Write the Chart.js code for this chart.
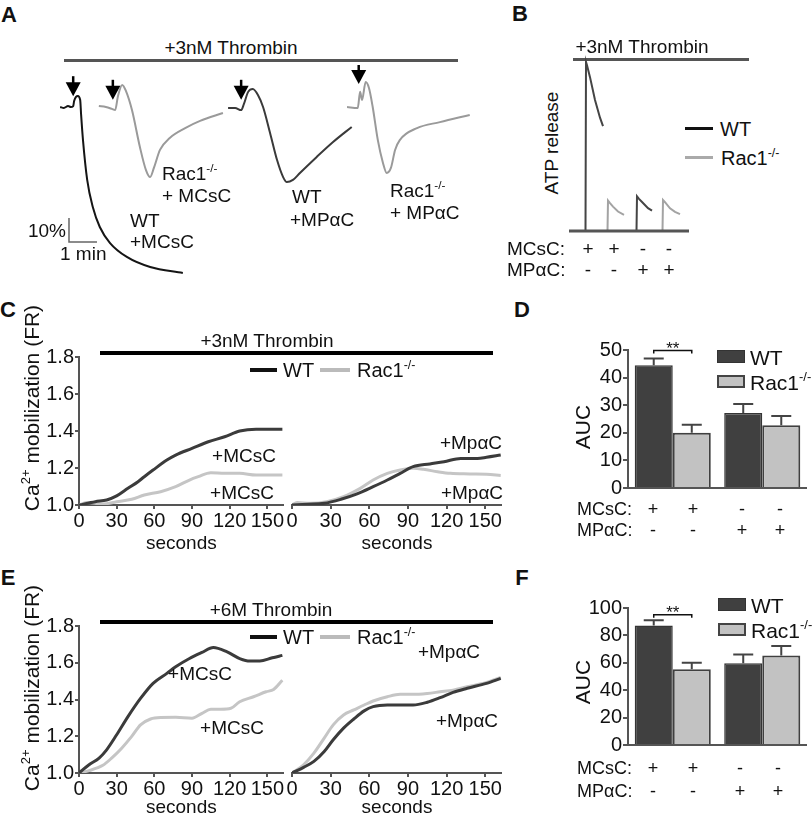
<!DOCTYPE html>
<html>
<head>
<meta charset="utf-8">
<title>Rac1 platelet figure</title>
<script src="https://cdn.jsdelivr.net/npm/chart.js@4.4.1/dist/chart.umd.min.js"></script>
<style>
  html, body { margin: 0; padding: 0; }
  body { position: relative; width: 812px; height: 817px; overflow: hidden; background: #fff;
         font-family: "Liberation Sans", Arial, sans-serif; color: #111; }
  canvas { position: absolute; z-index: 1; }
  canvas.front { z-index: 2; }
  .t { position: absolute; white-space: nowrap; line-height: 1; z-index: 3; }
  .cc { transform: translate(-50%, -50%); }
  .lc { transform: translateY(-50%); }
  .rc { transform: translate(-100%, -50%); }
  .rot { transform: translate(-50%, -50%) rotate(-90deg); }
  .hb { position: absolute; }
  .letter { font-weight: bold; font-size: 22px; }
  sup { font-size: 0.62em; vertical-align: 0.62em; line-height: 0; }
  .box { position: absolute; box-sizing: border-box; }
</style>
</head>
<body>

<div class="t cc letter" style="left:9px;top:15px">A</div>
<div class="t cc letter" style="left:520px;top:14px">B</div>
<div class="t cc letter" style="left:8px;top:310px">C</div>
<div class="t cc letter" style="left:522px;top:310px">D</div>
<div class="t cc letter" style="left:8px;top:578px">E</div>
<div class="t cc letter" style="left:522px;top:578px">F</div>

<!-- A -->
<div class="t cc" style="left:231px;top:47px;font-size:19px">+3nM Thrombin</div>
<div class="hb" style="left:64px;top:59px;width:394px;height:3px;background:#555"></div>
<canvas id="chartA" width="425" height="215" style="left:55px;top:65px"></canvas>
<div class="t lc" style="left:162px;top:173px;font-size:19px">Rac1<sup>-/-</sup></div>
<div class="t lc" style="left:162px;top:195px;font-size:19px">+ MCsC</div>
<div class="t lc" style="left:130px;top:220px;font-size:19px">WT</div>
<div class="t lc" style="left:130px;top:241px;font-size:19px">+MCsC</div>
<div class="t lc" style="left:292px;top:196px;font-size:19px">WT</div>
<div class="t lc" style="left:290px;top:219px;font-size:19px">+MPαC</div>
<div class="t lc" style="left:390px;top:190px;font-size:19px">Rac1<sup>-/-</sup></div>
<div class="t lc" style="left:390px;top:212px;font-size:19px">+ MPαC</div>
<div class="t rc" style="left:66px;top:230px;font-size:19px">10%</div>
<div class="t lc" style="left:60px;top:253px;font-size:19px">1 min</div>

<!-- B -->
<div class="t cc" style="left:642px;top:46px;font-size:19px">+3nM Thrombin</div>
<div class="hb" style="left:573px;top:58px;width:176px;height:3px;background:#555"></div>
<div class="t rot" style="left:551px;top:143px;font-size:19px">ATP release</div>
<canvas id="chartB" width="120" height="180" style="left:569px;top:55px"></canvas>
<div class="hb" style="left:685px;top:127px;width:28px;height:3px;background:#111"></div>
<div class="t lc" style="left:720px;top:129px;font-size:20px">WT</div>
<div class="hb" style="left:685px;top:156px;width:28px;height:3px;background:#aaa"></div>
<div class="t lc" style="left:721px;top:158px;font-size:20px">Rac1<sup>-/-</sup></div>
<div class="t lc" style="left:507px;top:248px;font-size:19px">MCsC:</div>
<div class="t lc" style="left:507px;top:269px;font-size:19px">MPαC:</div>
<div class="t cc" style="left:588px;top:248px;font-size:19px">+</div>
<div class="t cc" style="left:614px;top:248px;font-size:19px">+</div>
<div class="t cc" style="left:643px;top:248px;font-size:19px">-</div>
<div class="t cc" style="left:669px;top:248px;font-size:19px">-</div>
<div class="t cc" style="left:588px;top:269px;font-size:19px">-</div>
<div class="t cc" style="left:614px;top:269px;font-size:19px">-</div>
<div class="t cc" style="left:643px;top:269px;font-size:19px">+</div>
<div class="t cc" style="left:669px;top:269px;font-size:19px">+</div>

<!-- C -->
<div class="t cc" style="left:267px;top:340px;font-size:19px">+3nM Thrombin</div>
<div class="hb" style="left:100px;top:351px;width:393px;height:3.5px;background:#000"></div>
<div class="hb" style="left:250px;top:368px;width:27px;height:3.5px;background:#111"></div>
<div class="t lc" style="left:283px;top:370px;font-size:20px">WT</div>
<div class="hb" style="left:320px;top:368px;width:30px;height:3.5px;background:#bbb"></div>
<div class="t lc" style="left:357px;top:370px;font-size:20px">Rac1<sup>-/-</sup></div>
<div class="t rot" style="left:31px;top:408px;font-size:21px">Ca<sup>2+</sup> mobilization (FR)</div>
<canvas id="chartC1" width="250" height="215" style="left:34px;top:340px"></canvas>
<canvas id="chartC2" class="front" width="252" height="215" style="left:250px;top:340px"></canvas>
<div class="t cc" style="left:244px;top:455px;font-size:19px">+MCsC</div>
<div class="t cc" style="left:242px;top:492px;font-size:19px">+MCsC</div>
<div class="t cc" style="left:471px;top:442px;font-size:19px">+MpαC</div>
<div class="t cc" style="left:472px;top:492px;font-size:19px">+MpαC</div>

<!-- D -->
<div class="t rot" style="left:582px;top:427px;font-size:21px">AUC</div>
<canvas id="chartD" width="219" height="164" style="left:588px;top:337px"></canvas>
<div class="box" style="left:717px;top:350px;width:28px;height:13px;background:#404040;border:1.5px solid #333"></div>
<div class="t lc" style="left:750px;top:357px;font-size:21px">WT</div>
<div class="box" style="left:717px;top:375px;width:28px;height:13px;background:#c2c2c2;border:2px solid #444"></div>
<div class="t lc" style="left:750px;top:382px;font-size:21px">Rac1<sup>-/-</sup></div>
<div class="t lc" style="left:577px;top:509px;font-size:18px">MCsC:</div>
<div class="t lc" style="left:577px;top:530px;font-size:18px">MPαC:</div>
<div class="t cc" style="left:653px;top:509px;font-size:18px">+</div>
<div class="t cc" style="left:693px;top:509px;font-size:18px">+</div>
<div class="t cc" style="left:742px;top:509px;font-size:18px">-</div>
<div class="t cc" style="left:780px;top:509px;font-size:18px">-</div>
<div class="t cc" style="left:653px;top:530px;font-size:18px">-</div>
<div class="t cc" style="left:693px;top:530px;font-size:18px">-</div>
<div class="t cc" style="left:742px;top:530px;font-size:18px">+</div>
<div class="t cc" style="left:780px;top:530px;font-size:18px">+</div>

<!-- E -->
<div class="t cc" style="left:271px;top:609px;font-size:19px">+6M Thrombin</div>
<div class="hb" style="left:100px;top:620px;width:393px;height:3.5px;background:#000"></div>
<div class="hb" style="left:250px;top:635px;width:27px;height:3.5px;background:#111"></div>
<div class="t lc" style="left:283px;top:637px;font-size:20px">WT</div>
<div class="hb" style="left:320px;top:635px;width:30px;height:3.5px;background:#bbb"></div>
<div class="t lc" style="left:357px;top:637px;font-size:20px">Rac1<sup>-/-</sup></div>
<div class="t rot" style="left:31px;top:688px;font-size:21px">Ca<sup>2+</sup> mobilization (FR)</div>
<canvas id="chartE1" width="250" height="210" style="left:34px;top:609px"></canvas>
<canvas id="chartE2" class="front" width="252" height="210" style="left:250px;top:609px"></canvas>
<div class="t cc" style="left:200px;top:673px;font-size:19px">+MCsC</div>
<div class="t cc" style="left:232px;top:727px;font-size:19px">+MCsC</div>
<div class="t cc" style="left:449px;top:651px;font-size:19px">+MpαC</div>
<div class="t cc" style="left:467px;top:720px;font-size:19px">+MpαC</div>

<!-- F -->
<div class="t rot" style="left:582px;top:682px;font-size:21px">AUC</div>
<canvas id="chartF" width="219" height="163" style="left:588px;top:595px"></canvas>
<div class="box" style="left:718px;top:598px;width:28px;height:13px;background:#404040;border:1.5px solid #333"></div>
<div class="t lc" style="left:751px;top:605px;font-size:21px">WT</div>
<div class="box" style="left:718px;top:623px;width:28px;height:13px;background:#c2c2c2;border:2px solid #444"></div>
<div class="t lc" style="left:751px;top:630px;font-size:21px">Rac1<sup>-/-</sup></div>
<div class="t lc" style="left:577px;top:768px;font-size:18px">MCsC:</div>
<div class="t lc" style="left:577px;top:791px;font-size:18px">MPαC:</div>
<div class="t cc" style="left:653px;top:768px;font-size:18px">+</div>
<div class="t cc" style="left:693px;top:768px;font-size:18px">+</div>
<div class="t cc" style="left:740px;top:768px;font-size:18px">-</div>
<div class="t cc" style="left:778px;top:768px;font-size:18px">-</div>
<div class="t cc" style="left:653px;top:791px;font-size:18px">-</div>
<div class="t cc" style="left:693px;top:791px;font-size:18px">-</div>
<div class="t cc" style="left:740px;top:791px;font-size:18px">+</div>
<div class="t cc" style="left:778px;top:791px;font-size:18px">+</div>

<!-- off-screen copies used only to check the first tick label -->
<canvas id="probe1" width="252" height="215" style="left:-2000px;top:0"></canvas>
<canvas id="probe2" width="252" height="215" style="left:-2000px;top:300px"></canvas>

<script>
// ---- A: aggregation traces, [time s, % aggregation] ----
const aggWtMcsc = [[11,0],[19,0.4],[28,-0.4],[34,0],[39,-0.4],[41,-2.5],[45,-4.2],[49,-4.6],[54,-2.9],[56,3.3],[60,13.8],[69,30.4],[81,41.7],[96,50],[118,56.7],[154,62.5],[204,66.7],[274,69.2]];
const aggRacMcsc = [[94,-0.4],[109,0],[122,0.8],[129,1.3],[135,-4.6],[144,-9.2],[152,-6.7],[165,1.3],[182,16.7],[195,26.3],[204,29.2],[212,25.4],[225,17.9],[246,12.9],[279,8.8],[311,5.8],[360,2.5]];
const aggWtMpac = [[371,0.4],[386,0.4],[399,1.3],[405,-1.3],[414,-6.3],[424,-7.5],[435,-5],[446,0],[461,10.8],[476,22.1],[489,29.2],[497,31.3],[510,30.4],[525,27.5],[561,20.8],[596,14.6],[636,8.3]];
const aggRacMpac = [[626,0],[649,0.4],[654,-6.3],[658,-2.9],[666,-10.4],[673,-7.9],[681,0],[692,13.8],[703,23.3],[711,27.5],[720,25.4],[729,17.9],[739,13.8],[776,8.8],[825,6.3],[889,3.3]];
const aggColors = ["#151515", "#9a9a9a", "#3a3a3a", "#9a9a9a"];
const arrowTimes = [39, 124, 399, 651];
const arrowTips = [-4.5, -3, -3, -9.6];
const scaleBarAt = [30, 56.25]; // 1 min x 10%

// ---- B: ATP release, [time, signal] ----
const atpWtMcsc = [[13,0],[16.5,0],[17,100],[18,98],[21,91],[26,77.5],[31,67],[34,62]];
const atpRacMcsc = [[36,0],[38.5,0],[39,18],[41,16.5],[44,14.4],[49,11.5],[55,9.5]];
const atpWtMpac = [[65,0],[67.5,0],[68,20.5],[70,19],[74,16.5],[79,13.5],[83,12]];
const atpRacMpac = [[91,0],[93.5,0],[94,18.3],[96,17],[101,13.4],[106,11.3],[111,10]];

// ---- C: Ca2+ mobilization, 3nM thrombin, [seconds, FR] ----
const caWt3Mcsc = [[0,1.0],[13,1.018],[22,1.027],[30,1.049],[39,1.09],[47,1.126],[52,1.153],[59,1.189],[70,1.243],[77,1.27],[90,1.306],[103,1.342],[116,1.369],[128,1.40],[141,1.41],[162,1.41]];
const caRac3Mcsc = [[0,1.0],[6,1.013],[19,1.005],[30,1.018],[42,1.031],[52,1.054],[65,1.072],[77,1.099],[88,1.135],[95,1.153],[105,1.175],[116,1.171],[128,1.171],[141,1.162],[162,1.162]];
const caWt3Mpac = [[0,1.0],[12,1.004],[25,1.009],[38,1.031],[50,1.059],[63,1.099],[74,1.135],[84,1.171],[94,1.207],[107,1.222],[118,1.234],[131,1.252],[144,1.252],[151,1.258],[162,1.27]];
const caRac3Mpac = [[0,1.0],[4,1.014],[14,1.009],[27,1.018],[40,1.045],[53,1.09],[63,1.135],[74,1.171],[84,1.189],[94,1.198],[102,1.193],[113,1.18],[123,1.171],[138,1.168],[151,1.166],[162,1.16]];

// ---- E: Ca2+ mobilization, 6M thrombin ----
const caWt6Mcsc = [[0,1.0],[8,1.045],[16,1.081],[22,1.126],[30,1.208],[39,1.307],[49,1.406],[59,1.488],[70,1.542],[77,1.578],[88,1.623],[98,1.656],[107,1.683],[118,1.659],[128,1.623],[136,1.609],[144,1.609],[154,1.627],[162,1.64]];
const caRac6Mcsc = [[0,1.0],[8,1.013],[19,1.042],[26,1.081],[34,1.135],[42,1.199],[49,1.262],[57,1.294],[65,1.302],[77,1.303],[90,1.298],[98,1.325],[105,1.347],[113,1.347],[121,1.352],[128,1.388],[139,1.415],[149,1.442],[155,1.455],[162,1.505]];
const caWt6Mpac = [[0,1.0],[9,1.031],[17,1.063],[25,1.117],[32,1.181],[40,1.244],[48,1.294],[56,1.338],[63,1.361],[74,1.37],[84,1.37],[94,1.37],[105,1.385],[115,1.41],[125,1.439],[136,1.461],[151,1.488],[162,1.515]];
const caRac6Mpac = [[0,1.0],[9,1.045],[17,1.108],[25,1.19],[32,1.262],[40,1.316],[48,1.343],[56,1.37],[63,1.392],[74,1.415],[84,1.428],[94,1.428],[105,1.433],[115,1.442],[125,1.451],[136,1.469],[151,1.493],[162,1.52]];
const caTimeMax = 163;

// ---- D / F: AUC bars ----
const treatments = ["MCsC", "MPαC"];
const aucWt3 = [44.5, 27.2], aucWt3Err = [2.4, 3.2];
const aucRac3 = [20.0, 22.7], aucRac3Err = [2.9, 3.4];
const aucWt6 = [87.2, 59.6], aucWt6Err = [3.8, 6.5];
const aucRac6 = [55.3, 65.4], aucRac6Err = [4.7, 6.8];

Chart.defaults.font.family = '"Liberation Sans", Arial, sans-serif';
Chart.defaults.color = "#111";
Chart.defaults.animation = false;
Chart.defaults.responsive = false;
Chart.defaults.events = [];
Chart.defaults.plugins.legend.display = false;
Chart.defaults.plugins.tooltip.enabled = false;

const pts = (arr) => arr.map(([x, y]) => ({ x, y }));

const aggExtras = {
  id: "aggExtras",
  afterDatasetsDraw(chart) {
    const { ctx, scales: { x, y } } = chart;
    ctx.save();
    ctx.fillStyle = "#000";
    ctx.strokeStyle = "#000";
    arrowTimes.forEach((t, i) => {
      const px = x.getPixelForValue(t), tip = y.getPixelForValue(arrowTips[i]);
      ctx.lineWidth = 2.5;
      ctx.beginPath(); ctx.moveTo(px, tip - 20); ctx.lineTo(px, tip - 12); ctx.stroke();
      ctx.beginPath(); ctx.moveTo(px - 7.5, tip - 14); ctx.lineTo(px + 7.5, tip - 14); ctx.lineTo(px, tip); ctx.closePath(); ctx.fill();
    });
    const x0 = x.getPixelForValue(scaleBarAt[0]), y0 = y.getPixelForValue(scaleBarAt[1]);
    const x1 = x.getPixelForValue(scaleBarAt[0] + 60), y1 = y.getPixelForValue(scaleBarAt[1] - 10);
    ctx.strokeStyle = "#666";
    ctx.lineWidth = 1.5;
    ctx.beginPath(); ctx.moveTo(x0, y1); ctx.lineTo(x0, y0); ctx.lineTo(x1, y0); ctx.stroke();
    ctx.restore();
  }
};

new Chart(document.getElementById("chartA"), {
  type: "line",
  data: {
    datasets: [aggWtMcsc, aggRacMcsc, aggWtMpac, aggRacMpac].map((tr, i) => ({
      data: pts(tr), borderColor: aggColors[i], borderWidth: 2
    }))
  },
  options: {
    layout: { padding: 0 },
    elements: { point: { radius: 0 }, line: { cubicInterpolationMode: "monotone" } },
    scales: {
      x: { type: "linear", display: false, min: 0, max: 911 },
      y: { display: false, min: -17.5, max: 72.1, reverse: true }
    }
  },
  plugins: [aggExtras]
});

const atpBaseline = {
  id: "atpBaseline",
  afterDatasetsDraw(chart) {
    const { ctx, chartArea, scales: { y } } = chart;
    const py = y.getPixelForValue(0);
    ctx.save();
    ctx.strokeStyle = "#555";
    ctx.lineWidth = 3;
    ctx.beginPath(); ctx.moveTo(chartArea.left, py); ctx.lineTo(chartArea.right, py); ctx.stroke();
    ctx.restore();
  }
};

new Chart(document.getElementById("chartB"), {
  type: "line",
  data: {
    datasets: [
      { data: pts(atpWtMcsc), borderColor: "#454545" },
      { data: pts(atpRacMcsc), borderColor: "#a3a3a3" },
      { data: pts(atpWtMpac), borderColor: "#454545" },
      { data: pts(atpRacMpac), borderColor: "#a3a3a3" }
    ]
  },
  options: {
    layout: { padding: 0 },
    elements: { point: { radius: 0 }, line: { borderWidth: 2, tension: 0 } },
    scales: {
      x: { type: "linear", display: false, min: 0, max: 120 },
      y: { display: false, min: -2.4, max: 104.1 }
    }
  },
  plugins: [atpBaseline]
});

function caChart(id, wt, rac, withY, axisHeight) {
  const axisLine = { color: "#555", width: 2 };
  const tickMarks = { drawOnChartArea: false, tickLength: 4, color: "#555", lineWidth: 2 };
  const yAxis = withY
    ? { ticks: { stepSize: 0.2, font: { size: 20 }, padding: 1, callback: (v) => v.toFixed(1) },
        grid: tickMarks, border: axisLine, afterFit: (s) => { s.width = 45; } }
    : { ticks: { display: false }, grid: { display: false }, border: { display: false },
        afterFit: (s) => { s.width = 42; } };
  yAxis.min = 1;
  yAxis.max = 1.8;
  const datasets = [{ label: "WT", data: pts(wt), borderColor: "#3b3b3b" }];
  if (rac) datasets.push({ label: "Rac1-/-", data: pts(rac), borderColor: "#c5c5c5" });
  return new Chart(document.getElementById(id), {
    type: "line",
    data: { datasets },
    options: {
      layout: { padding: { top: 17, left: 0, right: 0, bottom: 0 } },
      elements: { point: { radius: 0 }, line: { borderWidth: 3, cubicInterpolationMode: "monotone" } },
      scales: {
        x: {
          type: "linear", min: 0, max: caTimeMax,
          afterFit: (s) => { s.height = axisHeight; },
          ticks: { stepSize: 30, includeBounds: false, font: { size: 20 }, padding: 0, maxRotation: 0, autoSkip: false },
          grid: tickMarks, border: axisLine,
          title: { display: true, text: "seconds", font: { size: 19 }, padding: 0 }
        },
        y: yAxis
      }
    }
  });
}

const cLeft = caChart("chartC1", caWt3Mcsc, caRac3Mcsc, true, 50);
const cRight = caChart("chartC2", caWt3Mpac, caRac3Mpac, false, 50);
caChart("chartE1", caWt6Mcsc, caRac6Mcsc, true, 46);
const eRight = caChart("chartE2", caWt6Mpac, caRac6Mpac, false, 46);
const probeA = caChart("probe1", [[0,1],[50,1.2],[162,1.3]], null, false, 50);
const probeB = caChart("probe2", caWt3Mpac, null, false, 50);

const errorBars = {
  id: "errorBars",
  afterDatasetsDraw(chart, args, opts) {
    const { ctx, scales: { y } } = chart;
    ctx.save();
    ctx.strokeStyle = "#444";
    ctx.lineWidth = 2;
    chart.data.datasets.forEach((ds, i) => {
      chart.getDatasetMeta(i).data.forEach((bar, j) => {
        const top = y.getPixelForValue(ds.data[j] + ds.errors[j]);
        ctx.beginPath();
        ctx.moveTo(bar.x, bar.y); ctx.lineTo(bar.x, top);
        ctx.moveTo(bar.x - 10, top); ctx.lineTo(bar.x + 10, top);
        ctx.stroke();
      });
    });
    const a = chart.getDatasetMeta(0).data[0].x, b = chart.getDatasetMeta(1).data[0].x;
    const ly = y.getPixelForValue(opts.sigLevel);
    ctx.strokeStyle = "#111";
    ctx.lineWidth = 1.5;
    ctx.beginPath(); ctx.moveTo(a, ly + 3); ctx.lineTo(a, ly); ctx.lineTo(b, ly); ctx.lineTo(b, ly + 3); ctx.stroke();
    ctx.fillStyle = "#111";
    ctx.font = '17px "Liberation Sans"';
    ctx.textAlign = "center";
    ctx.textBaseline = "alphabetic";
    ctx.fillText("**", (a + b) / 2, ly + 3);
    ctx.restore();
  }
};

function aucChart(id, wt, wtErr, rac, racErr, yMax, yStep, sigLevel) {
  return new Chart(document.getElementById(id), {
    type: "bar",
    data: {
      labels: treatments,
      datasets: [
        { label: "WT", data: wt, errors: wtErr, backgroundColor: "#404040", borderColor: "#353535", borderWidth: 1.5 },
        { label: "Rac1-/-", data: rac, errors: racErr, backgroundColor: "#c2c2c2", borderColor: "#404040", borderWidth: 2 }
      ]
    },
    options: {
      layout: { padding: { top: 12, right: 0, left: 0, bottom: 0 } },
      datasets: { bar: { categoryPercentage: 0.85, barPercentage: 1 } },
      scales: {
        x: {
          ticks: { display: false }, grid: { display: false },
          border: { color: "#555", width: 2 },
          afterFit: (s) => { s.height = 4; }
        },
        y: {
          min: 0, max: yMax,
          afterFit: (s) => { s.width = 40; },
          ticks: { stepSize: yStep, font: { size: 20 }, padding: 1 },
          grid: { drawOnChartArea: false, tickLength: 5, color: "#555", lineWidth: 2 },
          border: { color: "#555", width: 2 }
        }
      },
      plugins: { errorBars: { sigLevel } }
    },
    plugins: [errorBars]
  });
}

aucChart("chartD", aucWt3, aucWt3Err, aucRac3, aucRac3Err, 50, 10, 49.8);
aucChart("chartF", aucWt6, aucWt6Err, aucRac6, aucRac6Err, 100, 20, 95);

// check that the first x tick label of a right-hand panel really got painted
function inkNearFirstLabel(chart) {
  const x = chart.scales.x, left = Math.round(chart.chartArea.left);
  const img = chart.ctx.getImageData(left - 9, Math.round(x.top) + 7, 18, 20).data;
  let n = 0;
  for (let i = 3; i < img.length; i += 4) if (img[i] > 100) n++;
  return n;
}
const report = [cRight, eRight, probeA, probeB, cLeft].map((c) => {
  const x = c.scales.x;
  const items = x.getLabelItems(c.chartArea).slice(0, 2).map((it) => it.label + "@" + it.options.translation.map(Math.round).join("/"));
  return c.canvas.id + " ink=" + inkNearFirstLabel(c) + " area=" + Math.round(c.chartArea.left) + " top=" + Math.round(x.top) +
    " ticks=" + x.ticks.map((t) => t.label).join(",") + " items=" + items.join(" ") + " rot=" + x.labelRotation;
}).join(" | ");
if (inkNearFirstLabel(cRight) === 0) throw new Error("first-label check: " + report);
</script>
</body>
</html>
